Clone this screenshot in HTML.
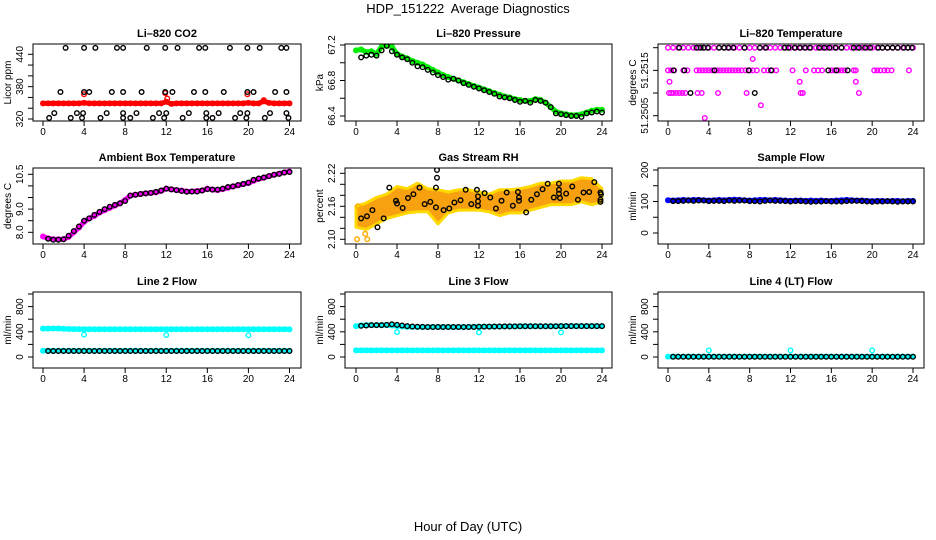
<!DOCTYPE html>
<html><head><meta charset="utf-8">
<style>
html,body{margin:0;padding:0;background:#fff;}
svg{display:block;font-family:"Liberation Sans",Arial,sans-serif;}
</style></head>
<body>
<svg id="chart" width="936" height="540" viewBox="0 0 936 540" xmlns="http://www.w3.org/2000/svg">
<text x="468" y="13" text-anchor="middle" font-size="13" xml:space="preserve">HDP_151222  Average Diagnostics</text>
<text x="468" y="531" text-anchor="middle" font-size="13">Hour of Day (UTC)</text>
</svg>
<script>
// ---- shared categories ----
const halfHours = [0,0.5,1,1.5,2,2.5,3,3.5,4,4.5,5,5.5,6,6.5,7,7.5,8,8.5,9,9.5,10,10.5,11,11.5,12,12.5,13,13.5,14,14.5,15,15.5,16,16.5,17,17.5,18,18.5,19,19.5,20,20.5,21,21.5,22,22.5,23,23.5,24];
const blackHours = [0.5,1,1.5,2,2.5,3,3.5,4,4.5,5,5.5,6,6.5,7,7.5,8,8.5,9,9.5,10,10.5,11,11.5,12,12.5,13,13.5,14,14.5,15,15.5,16,16.5,17,17.5,18,18.5,19,19.5,20,20.5,21,21.5,22,22.5,23,23.5,24];
const xTicks = [0,4,8,12,16,20,24];

// ---- Li-820 CO2 ----
const co2BlackHours = [2.2,4.0,5.1,7.2,7.8,10.1,11.9,13.1,15.2,15.8,18.2,19.9,21.1,23.2,23.7,
 1.7,4.0,4.5,6.7,7.8,9.6,11.9,12.6,14.7,15.8,17.6,19.9,20.5,22.6,23.7,
 1.1,3.3,3.9,6.2,7.8,9.1,11.3,12.0,14.2,15.9,17.1,19.2,19.9,22.1,23.7,
 0.6,2.7,3.8,5.6,7.8,8.5,10.7,11.8,13.6,15.9,16.5,18.7,19.8,21.6,23.9];
const co2BlackValues = [452,452,452,452,452,452,452,452,452,452,452,452,452,452,452,
 370,370,370,370,370,370,370,370,370,370,370,370,370,370,370,
 331,331,331,331,331,331,331,331,331,331,331,331,331,331,331,
 322,322,322,322,322,322,322,322,322,322,322,322,322,322,322];
const co2Red = [349,349,349,349,349,349,349,349,350,349,349,349,349,349,349,349,349,349,349,349,349,349,349,349,352,348,349,349,349,349,349,349,349,349,349,349,349,349,349,349,350,349,349,353,350,349,349,349,349];
const co2RedExtraHours = [4.0,11.9,12.1,19.9,21.5];
const co2RedExtraValues = [366,368,358,366,355];

// ---- Li-820 Pressure ----
const pressGreen = [67.14,67.15,67.12,67.13,67.1,67.18,67.2,67.18,67.1,67.07,67.05,67.02,67.0,66.98,66.95,66.92,66.89,66.86,66.84,66.82,66.8,66.78,66.76,66.74,66.72,66.7,66.68,66.66,66.64,66.62,66.61,66.59,66.58,66.57,66.57,66.59,66.58,66.55,66.5,66.45,66.43,66.42,66.41,66.41,66.42,66.44,66.46,66.47,66.47];
const pressBlack = [67.06,67.08,67.09,67.08,67.14,67.19,67.13,67.09,67.06,67.04,67.0,66.96,66.95,66.92,66.89,66.86,66.84,66.81,66.82,66.8,66.77,66.75,66.73,66.71,66.69,66.67,66.65,66.62,66.61,66.6,66.58,66.56,66.57,66.55,66.58,66.57,66.55,66.5,66.43,66.42,66.41,66.4,66.4,66.39,66.43,66.44,66.45,66.44];

// ---- Li-820 Temperature ----
const tempMagHours = [0,0.5,1,1.5,2,2.5,3,3.5,4,4.5,5,5.5,6,6.5,7,7.5,8,8.5,9,9.5,10,10.5,11,11.5,12,12.5,13,13.5,14,14.5,15,15.5,16,16.5,17,17.5,18,18.5,19,19.5,20,20.5,21,21.5,22,22.5,23,23.5,24,
 0,0.3,0.6,1.5,1.9,2.8,3.1,3.4,3.7,4.0,4.3,4.8,5.1,5.4,5.7,6.0,6.3,6.6,6.9,7.2,7.6,8.0,8.3,8.7,9.4,9.8,10.2,10.6,12.2,13.5,14.3,14.7,15.1,16.0,16.3,16.7,17.0,17.3,18.2,18.4,20.2,20.5,20.8,21.2,21.5,21.9,23.6,
 8.3,0.15,12.9,18.4,
 0.1,0.3,0.5,0.8,1.1,1.4,1.7,2.9,3.3,4.9,7.7,13.0,13.2,18.7,
 9.1,3.6];
const tempMagValues = [51.252,51.252,51.252,51.252,51.252,51.252,51.252,51.252,51.252,51.252,51.252,51.252,51.252,51.252,51.252,51.252,51.252,51.252,51.252,51.252,51.252,51.252,51.252,51.252,51.252,51.252,51.252,51.252,51.252,51.252,51.252,51.252,51.252,51.252,51.252,51.252,51.252,51.252,51.252,51.252,51.252,51.252,51.252,51.252,51.252,51.252,51.252,51.252,51.252,
 51.2515,51.2515,51.2515,51.2515,51.2515,51.2515,51.2515,51.2515,51.2515,51.2515,51.2515,51.2515,51.2515,51.2515,51.2515,51.2515,51.2515,51.2515,51.2515,51.2515,51.2515,51.2515,51.2515,51.2515,51.2515,51.2515,51.2515,51.2515,51.2515,51.2515,51.2515,51.2515,51.2515,51.2515,51.2515,51.2515,51.2515,51.2515,51.2515,51.2515,51.2515,51.2515,51.2515,51.2515,51.2515,51.2515,51.2515,
 51.25175,51.25125,51.25125,51.25125,
 51.251,51.251,51.251,51.251,51.251,51.251,51.251,51.251,51.251,51.251,51.251,51.251,51.251,51.251,
 51.25073,51.25045];
const tempBlackHours = [1.1,2.8,3.2,3.5,3.9,5.0,5.5,5.9,6.4,7.5,9.0,9.6,11.4,11.8,12.4,12.9,13.4,13.9,14.8,15.3,15.8,16.4,17.0,18.2,18.7,19.3,19.8,20.6,21.0,21.5,22.0,22.5,23.1,23.5,23.9,
 0.55,1.6,4.55,7.9,10.1,15.7,16.5,17.6,2.2,8.5];
const tempBlackValues = [51.252,51.252,51.252,51.252,51.252,51.252,51.252,51.252,51.252,51.252,51.252,51.252,51.252,51.252,51.252,51.252,51.252,51.252,51.252,51.252,51.252,51.252,51.252,51.252,51.252,51.252,51.252,51.252,51.252,51.252,51.252,51.252,51.252,51.252,51.252,
 51.2515,51.2515,51.2515,51.2515,51.2515,51.2515,51.2515,51.2515,51.251,51.251];

// ---- Ambient Box Temperature ----
const ambMag = [7.82,7.74,7.7,7.7,7.7,7.8,8.0,8.2,8.45,8.6,8.7,8.85,8.95,9.05,9.15,9.25,9.4,9.58,9.62,9.65,9.68,9.7,9.72,9.78,9.88,9.85,9.82,9.8,9.76,9.76,9.78,9.8,9.88,9.84,9.82,9.86,9.92,9.98,10.02,10.08,10.12,10.22,10.3,10.35,10.42,10.48,10.53,10.58,10.62];
const ambBlack = [7.72,7.68,7.68,7.7,7.85,8.05,8.25,8.5,8.6,8.75,8.88,9.0,9.1,9.18,9.25,9.35,9.58,9.62,9.65,9.68,9.7,9.74,9.8,9.88,9.85,9.82,9.78,9.75,9.76,9.76,9.8,9.86,9.84,9.84,9.88,9.95,9.98,10.04,10.08,10.14,10.26,10.32,10.36,10.42,10.48,10.52,10.58,10.6];

// ---- Gas Stream RH ----
const rhBandHours = [0,1,2,3,4,5,6,7,8,9,10,11,12,13,14,15,16,17,18,19,20,21,22,23,24];
const rhBandLow = [2.122,2.118,2.128,2.138,2.143,2.148,2.15,2.15,2.128,2.148,2.153,2.153,2.153,2.15,2.143,2.148,2.148,2.153,2.158,2.163,2.163,2.163,2.168,2.163,2.168];
const rhBandHigh = [2.16,2.166,2.176,2.182,2.196,2.192,2.202,2.192,2.19,2.186,2.19,2.19,2.186,2.182,2.19,2.19,2.192,2.196,2.202,2.202,2.206,2.206,2.212,2.21,2.192];
const rhOutHours = [0.1,1.1,0.2,0.9];
const rhOutValues = [2.10,2.10,2.16,2.11];
const rhBlackHours = [0.5,1.07,1.6,2.1,2.7,3.25,3.9,4.0,4.55,5.07,5.6,6.2,6.7,7.25,7.8,7.9,7.9,7.8,8.55,9.1,9.6,10.2,10.7,11.25,11.8,11.9,11.9,11.9,12.55,13.1,13.65,14.2,14.7,15.3,15.8,15.9,15.9,16.6,17.1,17.65,18.2,18.7,19.3,19.8,19.8,19.8,19.9,20.5,21.1,21.65,22.2,22.75,23.25,23.85,23.9,23.85,23.85];
const rhBlackValues = [2.138,2.142,2.153,2.122,2.138,2.194,2.170,2.165,2.157,2.175,2.182,2.194,2.164,2.168,2.194,2.226,2.212,2.158,2.153,2.156,2.167,2.171,2.190,2.164,2.190,2.178,2.169,2.161,2.184,2.176,2.156,2.170,2.185,2.161,2.186,2.176,2.170,2.149,2.172,2.182,2.191,2.201,2.176,2.201,2.190,2.183,2.175,2.183,2.196,2.172,2.185,2.186,2.204,2.185,2.182,2.172,2.168];

// ---- Sample Flow ----
const sampleBlue = [104,103,104,105,104,105,105,104,103,104,105,104,105,106,105,104,103,104,105,105,104,105,104,103,102,103,103,102,103,102,103,102,102,103,104,105,104,103,103,102,101,102,102,101,102,102,101,102,102];
const sampleBlack = [101,101,102,103,102,103,103,101,102,102,101,103,102,103,103,101,101,100,102,103,102,102,101,100,101,101,100,99,100,100,101,100,100,100,101,102,102,101,100,99,100,100,101,100,99,100,100,100];

// ---- Line 2 Flow ----
const line2CyanHigh = [450,450,452,452,448,445,442,442,440,440,440,440,440,440,440,440,440,440,440,440,440,440,440,440,440,440,440,440,440,440,440,440,440,440,440,440,440,440,440,440,440,440,440,440,440,440,440,440,438];
const line2CyanLow = [100,100,100,100,100,100,100,100,100,100,100,100,100,100,100,100,100,100,100,100,100,100,100,100,100,100,100,100,100,100,100,100,100,100,100,100,100,100,100,100,100,100,100,100,100,100,100,100,100];
const line2DipHours = [4,12,20];
const line2DipValues = [355,350,345];
const line2Black = [96,96,96,96,96,96,96,95,96,96,96,96,96,96,96,95,96,96,96,96,96,96,96,95,96,96,96,96,96,96,96,95,96,96,96,96,96,96,96,95,96,96,96,96,96,96,96,95];

// ---- Line 3 Flow ----
const line3CyanHigh = [490,500,505,505,505,505,505,500,492,485,480,478,476,476,476,476,476,476,476,476,476,476,476,480,480,482,482,482,484,484,486,486,488,488,488,488,488,488,488,488,490,490,490,490,490,490,490,490,490];
const line3CyanLow = [105,105,105,105,105,105,105,105,105,105,105,105,105,105,105,105,105,105,105,105,105,105,105,105,105,105,105,105,105,105,105,105,105,105,105,105,105,105,105,105,105,105,105,105,105,105,105,105,105];
const line3DipHours = [4,12,20];
const line3DipValues = [395,390,390];
const line3Black = [495,500,505,505,505,510,520,510,500,490,485,480,478,476,476,476,476,476,476,476,476,476,476,480,482,482,484,484,486,486,486,488,488,488,488,488,488,488,488,490,490,490,490,490,490,490,490,490];

// ---- Line 4 (LT) Flow ----
const line4Cyan = [5,5,5,5,5,5,5,5,5,5,5,5,5,5,5,5,5,5,5,5,5,5,5,5,5,5,5,5,5,5,5,5,5,5,5,5,5,5,5,5,5,5,5,5,5,5,5,5,5];
const line4DipHours = [4,12,20];
const line4DipValues = [105,105,105];
const line4Black = [4,4,4,4,4,4,4,4,4,4,4,4,4,4,4,4,4,4,4,4,4,4,4,4,4,4,4,4,4,4,4,4,4,4,4,4,4,4,4,4,4,4,4,4,4,4,4,4];

// ---- layout (not data) ----
const NS = "http://www.w3.org/2000/svg";
const svg = document.getElementById("chart");
const cols = [{l:33,r:301,x0:43,x24:289.5},{l:345,r:612,x0:356,x24:602},{l:658,r:924,x0:668,x24:913}];
const rows = [{t:44,b:121},{t:168,b:244},{t:292,b:368}];

function mk(tag, attrs){
  const e = document.createElementNS(NS, tag);
  for (const k in attrs) e.setAttribute(k, attrs[k]);
  return e;
}

function makePanel(cfg){
  const c = cols[cfg.col], r = rows[cfg.row];
  const g = mk("g", {});
  
  
  svg.appendChild(g);
  const P = {
    x: h => c.x0 + (h/24)*(c.x24 - c.x0),
    y: v => cfg.p0 + (v - cfg.v0)/(cfg.v1 - cfg.v0)*(cfg.p1 - cfg.p0),
    g: g
  };
  const clip = mk("clipPath", {id: "clip-" + cfg.name});
  clip.appendChild(mk("rect", {x: c.l, y: r.t, width: c.r - c.l, height: r.b - r.t}));
  svg.appendChild(clip);
  const plot = mk("g", {"clip-path": "url(#clip-" + cfg.name + ")"});
  
  
  g.appendChild(plot);
  P.plot = plot;
  const t = mk("text", {x: (c.l + c.r)/2, y: r.t - 7, "text-anchor": "middle", "font-size": "11", "font-weight": "bold"});
  t.textContent = cfg.title;
  
  
  g.appendChild(t);
  const box = mk("rect", {x: c.l, y: r.t, width: c.r - c.l, height: r.b - r.t, fill: "none", stroke: "#000", "stroke-width": "1"});
  
  
  g.appendChild(box);
  const xa = mk("g", {});
  
  
  g.appendChild(xa);
  xTicks.forEach(h => {
    const X = P.x(h);
    xa.appendChild(mk("line", {x1: X, x2: X, y1: r.b, y2: r.b + 5, stroke: "#000"}));
    const lt = mk("text", {x: X, y: r.b + 14, "text-anchor": "middle", "font-size": "10"});
    lt.textContent = h;
    
    
    xa.appendChild(lt);
  });
  const ya = mk("g", {});
  
  
  g.appendChild(ya);
  cfg.yTicks.forEach(v => {
    const Y = P.y(v);
    ya.appendChild(mk("line", {x1: c.l - 5, x2: c.l, y1: Y, y2: Y, stroke: "#000"}));
  });
  cfg.yLabels.forEach(v => {
    const Y = P.y(v);
    const X = c.l - 10;
    const lt = mk("text", {x: X, y: Y, "text-anchor": "middle", "font-size": "10", transform: "rotate(-90 " + X + " " + Y + ")"});
    lt.textContent = cfg.fmt ? cfg.fmt(v) : String(v);
    
    
    ya.appendChild(lt);
  });
  const yt = mk("text", {x: c.l - 22, y: (r.t + r.b)/2, "text-anchor": "middle", "font-size": "10", transform: "rotate(-90 " + (c.l - 22) + " " + ((r.t + r.b)/2) + ")"});
  yt.textContent = cfg.yTitle;
  
  
  g.appendChild(yt);
  return P;
}

function points(P, hours, values, color, name, withLine){
  const n = Math.min(hours.length, values.length);
  const sg = mk("g", {});
  
  
  P.plot.appendChild(sg);
  if (withLine){
    let d = "";
    for (let i = 0; i < n; i++) d += (i ? "L" : "M") + P.x(hours[i]) + " " + P.y(values[i]);
    const pl = mk("path", {d: d, fill: "none", stroke: color, "stroke-width": "5", "stroke-linejoin": "round", "stroke-linecap": "round"});
    
    
    sg.appendChild(pl);
  }
  for (let i = 0; i < n; i++){
    const ci = mk("circle", {cx: P.x(hours[i]), cy: P.y(values[i]), r: 2.3, fill: "none", stroke: color, "stroke-width": "1.4"});
    
    
    sg.appendChild(ci);
  }
}

function band(P, hours, low, high, name){
  const n = Math.min(hours.length, low.length, high.length);
  let d = "";
  for (let i = 0; i < n; i++) d += (i ? "L" : "M") + P.x(hours[i]) + " " + P.y(high[i]);
  for (let i = n - 1; i >= 0; i--) d += "L" + P.x(hours[i]) + " " + P.y(low[i]);
  d += "Z";
  const p = mk("path", {d: d, fill: "#f7a010", stroke: "#ffd800", "stroke-width": "3", "stroke-linejoin": "round"});
  
  
  P.plot.appendChild(p);
}

const p1 = makePanel({name:"co2", title:"Li\u2013820 CO2", col:0, row:0, v0:320, p0:119, v1:440, p1:54.3,
  yTicks:[320,340,360,380,400,420,440], yLabels:[320,380,440], yTitle:"Licor ppm"});
points(p1, halfHours, co2Red, "#ff0000", "co2-red-series", true);
points(p1, co2RedExtraHours, co2RedExtraValues, "#ff0000", "co2-red-spikes", false);
points(p1, co2BlackHours, co2BlackValues, "#000", "co2-black-series", false);

const p2 = makePanel({name:"pressure", title:"Li\u2013820 Pressure", col:1, row:0, v0:66.4, p0:116, v1:67.2, p1:45,
  yTicks:[66.4,66.6,66.8,67.0,67.2], yLabels:[66.4,66.8,67.2], fmt:v=>v.toFixed(1), yTitle:"kPa"});
points(p2, halfHours, pressGreen, "#00ee00", "pressure-green-series", true);
points(p2, blackHours, pressBlack, "#000", "pressure-black-series", false);

const p3 = makePanel({name:"li820-temp", title:"Li\u2013820 Temperature", col:2, row:0, v0:51.2505, p0:115.7, v1:51.252, p1:47.7,
  yTicks:[51.2505,51.251,51.2515,51.252], yLabels:[51.2505,51.2515], fmt:v=>v.toFixed(4), yTitle:"degrees C"});
points(p3, tempMagHours, tempMagValues, "#ff00ff", "li820-temp-magenta-series", false);
points(p3, tempBlackHours, tempBlackValues, "#000", "li820-temp-black-series", false);

const p4 = makePanel({name:"ambient-temp", title:"Ambient Box Temperature", col:0, row:1, v0:8.0, p0:232.3, v1:10.5, p1:174.3,
  yTicks:[8.0,8.5,9.0,9.5,10.0,10.5], yLabels:[8.0,9.0,10.5], fmt:v=>v.toFixed(1), yTitle:"degrees C"});
points(p4, halfHours, ambMag, "#ff00ff", "ambient-magenta-series", true);
points(p4, blackHours, ambBlack, "#000", "ambient-black-series", false);

const p5 = makePanel({name:"gas-rh", title:"Gas Stream RH", col:1, row:1, v0:2.10, p0:239.3, v1:2.22, p1:173.3,
  yTicks:[2.10,2.12,2.14,2.16,2.18,2.20,2.22], yLabels:[2.10,2.16,2.22], fmt:v=>v.toFixed(2), yTitle:"percent"});
band(p5, rhBandHours, rhBandLow, rhBandHigh, "rh-orange-band");
points(p5, rhOutHours, rhOutValues, "#ffaa00", "rh-orange-outliers", false);
points(p5, rhBlackHours, rhBlackValues, "#000", "rh-black-series", false);

const p6 = makePanel({name:"sample-flow", title:"Sample Flow", col:2, row:1, v0:0, p0:233, v1:200, p1:170,
  yTicks:[0,50,100,150,200], yLabels:[0,100,200], yTitle:"ml/min"});
points(p6, halfHours, sampleBlue, "#0000ff", "sample-blue-series", true);
points(p6, blackHours, sampleBlack, "#000", "sample-black-series", false);

const flowCfg = {v0:0, p0:357, v1:800, p1:306.6, yTicks:[0,200,400,600,800,1000], yLabels:[0,400,800], yTitle:"ml/min"};
const p7 = makePanel(Object.assign({name:"line2-flow", title:"Line 2 Flow", col:0, row:2}, flowCfg));
points(p7, halfHours, line2CyanHigh, "#00ffff", "line2-cyan-high", true);
points(p7, halfHours, line2CyanLow, "#00ffff", "line2-cyan-low", true);
points(p7, line2DipHours, line2DipValues, "#00ffff", "line2-cyan-dips", false);
points(p7, blackHours, line2Black, "#000", "line2-black-series", false);

const p8 = makePanel(Object.assign({name:"line3-flow", title:"Line 3 Flow", col:1, row:2}, flowCfg));
points(p8, halfHours, line3CyanHigh, "#00ffff", "line3-cyan-high", true);
points(p8, halfHours, line3CyanLow, "#00ffff", "line3-cyan-low", true);
points(p8, line3DipHours, line3DipValues, "#00ffff", "line3-cyan-dips", false);
points(p8, blackHours, line3Black, "#000", "line3-black-series", false);

const p9 = makePanel(Object.assign({name:"line4-flow", title:"Line 4 (LT) Flow", col:2, row:2}, flowCfg));
points(p9, halfHours, line4Cyan, "#00ffff", "line4-cyan-series", true);
points(p9, line4DipHours, line4DipValues, "#00ffff", "line4-cyan-dips", false);
points(p9, blackHours, line4Black, "#000", "line4-black-series", false);
</script>
</body></html>
